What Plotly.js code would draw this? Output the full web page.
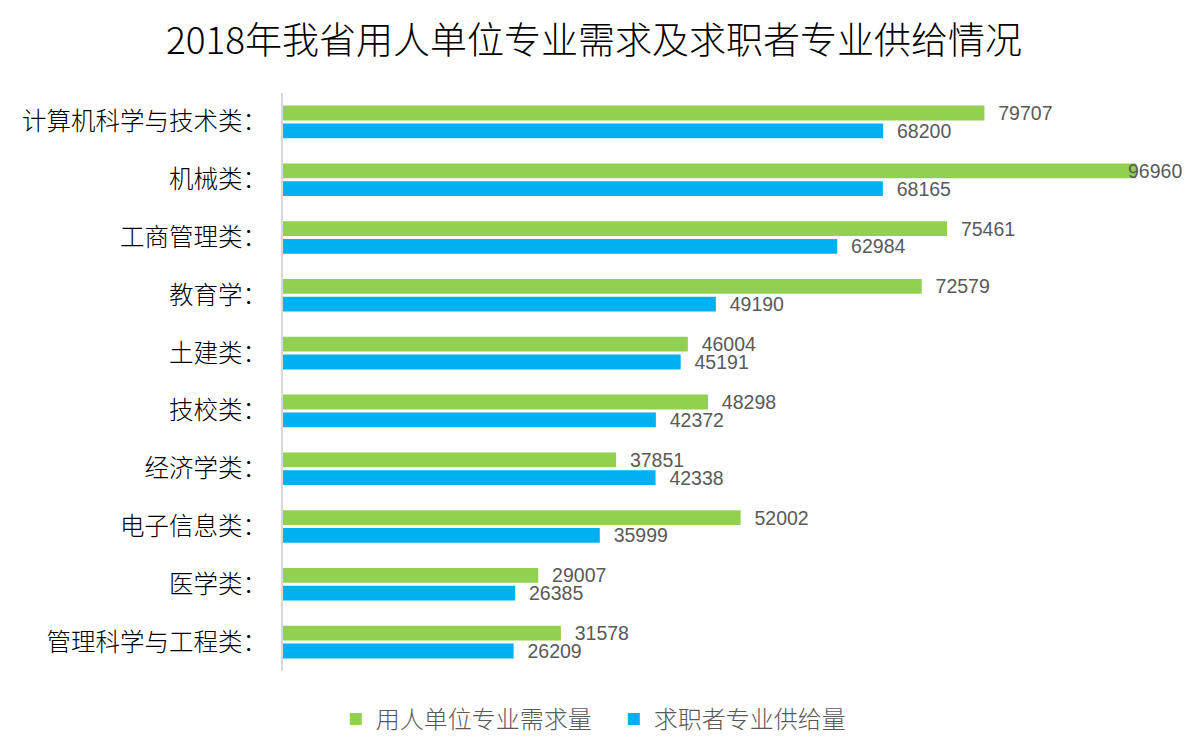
<!DOCTYPE html>
<html>
<head>
<meta charset="utf-8">
<script src="https://cdn.plot.ly/plotly-3.0.1.min.js"></script>
<style>html,body{margin:0;padding:0;background:#fff;}#chart{width:1188px;height:754px;}</style>
</head>
<body>
<div id="chart"></div>
<script>
const categories = ["计算机科学与技术类：", "机械类：", "工商管理类：", "教育学：", "土建类：", "技校类：", "经济学类：", "电子信息类：", "医学类：", "管理科学与工程类："];
const demand = [79707, 96960, 75461, 72579, 46004, 48298, 37851, 52002, 29007, 31578];
const supply = [68200, 68165, 62984, 49190, 45191, 42372, 42338, 35999, 26385, 26209];
const seriesNames = ["用人单位专业需求量", "求职者专业供给量"];

const FONT = "Liberation Sans, Arial, Noto Sans CJK SC, sans-serif";
const CJK = "Noto Sans CJK SC, Liberation Sans, sans-serif";
const XMAX = 100000;
const LABEL_FONT = {family: FONT, size: 19.5, color: "#595959"};
// labels that would run past the chart edge are pulled back over the bar end (as in the source chart)
const fits = v => v < 0.9 * XMAX;

const mk = (vals, name, color) => ({
  type: "bar", orientation: "h", y: categories, x: vals, name: name,
  marker: {color: color},
  text: vals.map(v => fits(v) ? "  " + v : ""), textposition: "outside", cliponaxis: false, constraintext: "none",
  textfont: LABEL_FONT,
  hoverinfo: "x+name"
});

const data = [mk(demand, seriesNames[0], "#92D050"), mk(supply, seriesNames[1], "#00B0F0")];

const annotations = [];
[[demand, 9], [supply, -9]].forEach(([vals, ys]) => {
  vals.forEach((v, i) => {
    if (!fits(v)) annotations.push({x: v, y: categories[i], xref: "x", yref: "y", text: String(v),
      showarrow: false, xanchor: "left", yanchor: "middle", xshift: -10, yshift: ys, font: LABEL_FONT});
  });
});

const layout = {
  width: 1188, height: 754,
  margin: {l: 283, r: 25, t: 93, b: 74},
  paper_bgcolor: "#fff", plot_bgcolor: "#fff",
  title: {text: "2018年我省用人单位专业需求及求职者专业供给情况", x: 0.5, xanchor: "center", y: 0.945, yanchor: "middle",
          font: {family: CJK, size: 37, color: "#000", weight: 300}},
  barmode: "group", bargap: 0.385, bargroupgap: 0.167,
  xaxis: {range: [0, XMAX], showgrid: false, zeroline: false, showticklabels: false, showline: false, ticks: ""},
  yaxis: {autorange: "reversed", showline: true, linecolor: "#d9d9d9", linewidth: 2, ticks: "", showgrid: false,
          ticklabelstandoff: 9, tickfont: {family: CJK, size: 24.5, color: "#000", weight: 300}},
  annotations: annotations,
  showlegend: true,
  legend: {orientation: "h", x: 0.06, xanchor: "left", y: -0.045, yanchor: "top", entrywidth: 233, entrywidthmode: "pixels",
           font: {family: CJK, size: 24, color: "#595959", weight: 300}, itemwidth: 30},
};

Plotly.newPlot("chart", data, layout, {displayModeBar: false, staticPlot: true});
</script>
</body>
</html>
